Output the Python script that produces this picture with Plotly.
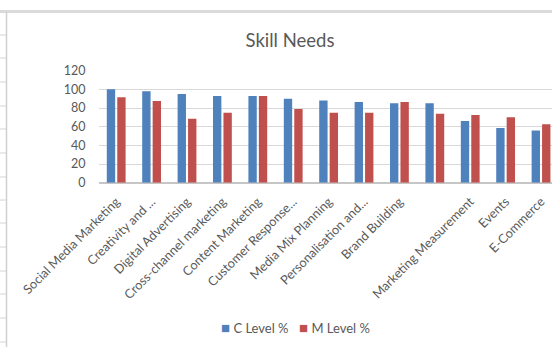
import plotly.graph_objects as go

# Skill areas (one group has no label in the source sheet)
categories = [
    "Social Media Marketing", "Creativity and ...", "Digital Advertising",
    "Cross-channel marketing", "Content Marketing", "Customer Response...",
    "Media Mix Planning", "Personalisation and...", "Brand Building", " ",
    "Marketing Measurement", "Events", "E-Commerce",
]
c_level = [100, 98, 95, 93, 93, 90, 88, 86.5, 85, 85, 66, 58.5, 56]
m_level = [91.5, 87.5, 68.5, 75, 93, 79, 75, 75, 86.5, 74, 72.5, 70, 62.5]
y_ticks = [0, 20, 40, 60, 80, 100, 120]
series_names = ["C Level %", "M Level %"]
series_colors = ["#4F81BD", "#C0504D"]

W, H = 552, 347
FONT = "Lato"
GREY_TXT = "#595959"


def px_x(x):
    return x / W


def px_y(y):
    return 1 - y / H


fig = go.Figure()
for name, vals, col in zip(series_names, [c_level, m_level], series_colors):
    fig.add_trace(go.Bar(name=name, x=categories, y=vals, showlegend=False,
                         marker=dict(color=col, line=dict(width=0))))

# spreadsheet frame around the chart object
shapes = [
    dict(type="rect", xref="paper", yref="paper", x0=0, x1=1,
         y0=px_y(13), y1=px_y(10), fillcolor="#DADADA", line=dict(width=0)),
    dict(type="line", xref="paper", yref="paper", x0=px_x(6.5), x1=px_x(6.5),
         y0=0, y1=px_y(12), line=dict(color="#D0D0D0", width=1.5)),
]
for ry in [35, 58, 82, 106, 129, 153, 177, 200, 223, 247, 271, 294, 318, 342]:
    shapes.append(dict(type="line", xref="paper", yref="paper",
                       x0=0, x1=px_x(6), y0=px_y(ry), y1=px_y(ry),
                       line=dict(color="#D4D4D4", width=1)))

# compact legend row beneath the plot
legend_x = [219, 297]
annotations = []
for name, col, lx in zip(series_names, series_colors, legend_x):
    annotations.append(dict(
        xref="paper", yref="paper", x=px_x(lx), y=px_y(327),
        xanchor="left", yanchor="middle", showarrow=False,
        text=f'<span style="color:{col};font-size:15px">■</span> {name}',
        font=dict(family=FONT, size=13, color=GREY_TXT),
    ))

fig.update_layout(
    width=W, height=H,
    margin=dict(l=0, r=0, t=0, b=0),
    paper_bgcolor="white", plot_bgcolor="white",
    barmode="group", bargap=0.41, bargroupgap=0.2,
    showlegend=False,
    title=dict(text="Skill Needs", x=px_x(290), xanchor="center",
               y=px_y(41), yanchor="middle", automargin=False,
               font=dict(family=FONT, size=18.5, color=GREY_TXT)),
    font=dict(family=FONT, color=GREY_TXT, size=12),
    xaxis=dict(
        domain=[px_x(98.5), 1], range=[-0.5, 12.31],
        type="category", tickangle=-45, automargin=False,
        tickfont=dict(family=FONT, size=12.7, color=GREY_TXT),
        showgrid=False, showline=False, zeroline=False,
        ticks="", ticklabelstandoff=8,
    ),
    yaxis=dict(
        domain=[px_y(182.7), px_y(70.7)], range=[0, 120],
        tickvals=y_ticks, ticks="", automargin=False,
        tickfont=dict(family=FONT, size=12.5, color=GREY_TXT),
        showgrid=True, gridcolor="#D9D9D9", gridwidth=1,
        zeroline=True, zerolinecolor="#C6C6C6", zerolinewidth=1.5,
        showline=False, ticklabelstandoff=12,
    ),
    annotations=annotations,
    shapes=shapes,
)

fig.write_html("out.html")
